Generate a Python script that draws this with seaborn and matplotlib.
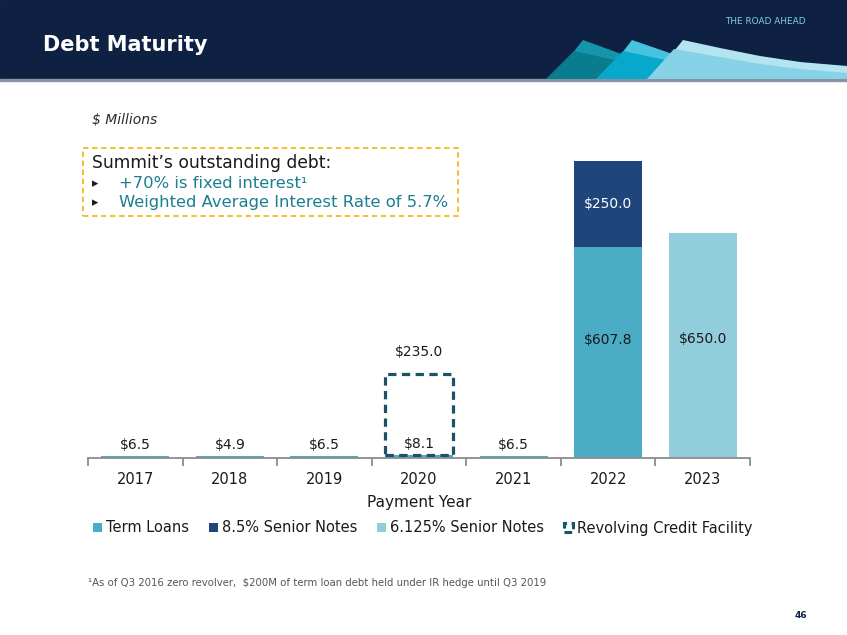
import matplotlib
matplotlib.use("Agg")
import matplotlib.pyplot as plt
from matplotlib.patches import Patch, Polygon, Rectangle
import numpy as np
import seaborn as sns

years = ["2017", "2018", "2019", "2020", "2021", "2022", "2023"]
term_loans = [6.5, 4.9, 6.5, 8.1, 6.5, 607.8, 0.0]
senior_85 = [0.0, 0.0, 0.0, 0.0, 0.0, 250.0, 0.0]
senior_6125 = [0.0, 0.0, 0.0, 0.0, 0.0, 0.0, 650.0]
revolving = [0.0, 0.0, 0.0, 235.0, 0.0, 0.0, 0.0]
series_names = ["Term Loans", "8.5% Senior Notes", "6.125% Senior Notes", "Revolving Credit Facility"]

C_TERM = "#4BACC6"
C_85 = "#1F467A"
C_6125 = "#92CDDC"
C_REV = "#1A5368"
NAVY = "#0E2142"
TEAL_TXT = "#1A7F8E"
W, H = 847, 635


def fx(px):
    return px / W


def fy(py):
    return 1 - py / H


sns.set_style("white")
plt.rcParams["font.family"] = ["DejaVu Sans"]

fig = plt.figure(figsize=(W / 100, H / 100), dpi=100)

# header band
fig.patches.append(Rectangle((0, fy(79)), 1, 1 - fy(79), transform=fig.transFigure,
                             color=NAVY, zorder=0))
fig.patches.append(Rectangle((0, fy(81)), 1, fy(79) - fy(81), transform=fig.transFigure,
                             color="#8A93A2", zorder=0))


def poly(pts, color):
    fig.patches.append(Polygon([(fx(x), fy(y)) for x, y in pts], closed=True,
                               transform=fig.transFigure, color=color, lw=0, zorder=1))


poly([(552, 79), (583, 40), (690, 79)], "#1595AA")
poly([(546, 79), (574, 51), (700, 79)], "#0A7C8F")
poly([(602, 79), (632, 40), (745, 79)], "#45C3DF")
poly([(596, 79), (623, 51), (755, 79)], "#07A8CB")
poly([(652, 79), (683, 40), (720, 48), (760, 56), (800, 62), (847, 66), (847, 79)], "#B5E4F1")
poly([(647, 79), (674, 49), (720, 57), (760, 64), (800, 69), (847, 73), (847, 79)], "#86D2E7")

fig.text(fx(43), fy(45), "Debt Maturity", color="white", fontsize=15, fontweight="bold",
         va="center", ha="left")
fig.text(fx(806), fy(22), "THE ROAD AHEAD", color="#7FD0EA", fontsize=6.4,
         va="center", ha="right")

# chart axes
ax = fig.add_axes([fx(88), fy(458), fx(750) - fx(88), (458 - 140) / H])

layer_top = np.array(term_loans) + np.array(senior_85) + np.array(senior_6125)
layer_mid = np.array(term_loans) + np.array(senior_85)
sns.barplot(x=years, y=layer_top, color=C_6125, saturation=1, width=0.72, linewidth=0, ax=ax)
sns.barplot(x=years, y=layer_mid, color=C_85, saturation=1, width=0.72, linewidth=0, ax=ax)
sns.barplot(x=years, y=term_loans, color=C_TERM, saturation=1, width=0.72, linewidth=0, ax=ax)

rev_years = [y for y, r in zip(years, revolving) if r > 0]
rev_vals = [r for r in revolving if r > 0]
rev_base = [t for t, r in zip(term_loans, revolving) if r > 0]
sns.barplot(x=rev_years, y=rev_vals, order=years, bottom=rev_base, fill=False,
            edgecolor=C_REV, linewidth=2.3, linestyle=(0, (2.6, 1.7)), width=0.72, ax=ax)

ax.set_xlim(-0.5, 6.5)
ax.set_ylim(0, 918)
ax.set_yticks([])
for s in ["top", "left", "right"]:
    ax.spines[s].set_visible(False)
ax.spines["bottom"].set_color("#8C8C8C")
ax.spines["bottom"].set_linewidth(1.3)
ax.set_xticks(np.arange(-0.5, 7, 1), minor=True)
ax.tick_params(axis="x", which="minor", bottom=True, length=6, width=1.3, color="#8C8C8C",
               direction="out")
ax.tick_params(axis="x", which="major", length=0, pad=10, labelsize=10.5, labelcolor="#1A1A1A")
ax.set_xlabel("Payment Year", fontsize=11, color="#1A1A1A", labelpad=6)

# value labels
for i, (t, b, l, r) in enumerate(zip(term_loans, senior_85, senior_6125, revolving)):
    if b == 0 and l == 0 and t > 0:
        ax.annotate(f"${t:.1f}", (i, t), xytext=(0, 8), textcoords="offset points",
                    ha="center", va="center", fontsize=10, color="#1A1A1A")
    if b > 0:
        ax.text(i, t * 0.56, f"${t:.1f}", ha="center", va="center", fontsize=10, color="#1A1A1A")
        ax.text(i, t + b / 2, f"${b:.1f}", ha="center", va="center", fontsize=10, color="white")
    if l > 0:
        ax.text(i, l * 0.53, f"${l:.1f}", ha="center", va="center", fontsize=10, color="#1A1A1A")
    if r > 0:
        ax.annotate(f"${r:.1f}", (i, t + r), xytext=(0, 16), textcoords="offset points",
                    ha="center", va="center", fontsize=10, color="#1A1A1A")

handles = [
    Patch(facecolor=C_TERM, edgecolor="none", label=series_names[0]),
    Patch(facecolor=C_85, edgecolor="none", label=series_names[1]),
    Patch(facecolor=C_6125, edgecolor="none", label=series_names[2]),
    Patch(facecolor="none", edgecolor=C_REV, linewidth=2.2, linestyle=(0, (2.5, 1.5)),
          label=series_names[3]),
]
fig.legend(handles=handles, loc="center", bbox_to_anchor=(fx(423), fy(528)), ncol=4,
           frameon=False, fontsize=10.5, handlelength=0.6, handleheight=0.6,
           handletextpad=0.3, columnspacing=1.35, labelcolor="#1A1A1A")

# annotations
fig.text(fx(92), fy(120), "$ Millions", fontsize=10, style="italic", color="#2A2A2A",
         va="center")
fig.patches.append(Rectangle((fx(83), fy(216)), fx(458) - fx(83), fy(148) - fy(216),
                             transform=fig.transFigure, fill=False, edgecolor="#F2BA1F",
                             linewidth=1.3, linestyle=(0, (3, 2))))
fig.text(fx(92), fy(163), "Summit\u2019s outstanding debt:", fontsize=12.3, color="#1A1A1A",
         va="center")
for py, txt in [(184, "+70% is fixed interest\u00b9"), (203, "Weighted Average Interest Rate of 5.7%")]:
    fig.text(fx(92), fy(py), "\u25b8", fontsize=9, color="#1A1A1A", va="center")
    fig.text(fx(119), fy(py), txt, fontsize=11.8, color=TEAL_TXT, va="center")

fig.text(fx(88), fy(583), "\u00b9As of Q3 2016 zero revolver,  $200M of term loan debt held under IR hedge until Q3 2019",
         fontsize=7.3, color="#555555", va="center")
fig.text(fx(801), fy(615), "46", fontsize=6.5, fontweight="bold", color=NAVY, va="center",
         ha="center")

fig.savefig("out.png", dpi=100)
